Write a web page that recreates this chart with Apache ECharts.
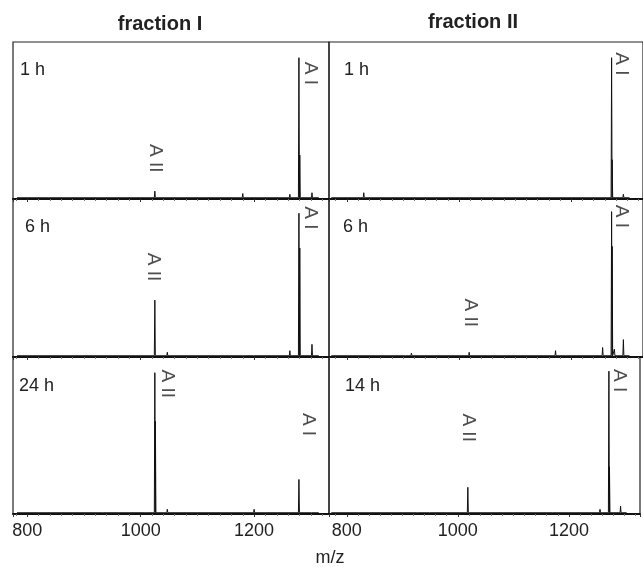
<!DOCTYPE html>
<html>
<head>
<meta charset="utf-8">
<script src="https://cdn.jsdelivr.net/npm/echarts@6/dist/echarts.min.js"></script>
<style>
  html, body { margin: 0; padding: 0; background: #fff; }
  #main { width: 643px; height: 567px; }
</style>
</head>
<body>
<div id="main"></div>
<script>
// m/z axis extents of each column, and where the recorded spectrum runs
const axisRangeI = [775, 1332];
const axisRangeII = [768, 1328];
const spectrumRangeI = [782, 1314];
const spectrumRangeII = [772, 1304];
const baseLevel = 0.008;

const columnTitles = ['fraction I', 'fraction II'];
const timesI = ['1 h', '6 h', '24 h'];
const timesII = ['1 h', '6 h', '14 h'];

// peaks [m/z, relative intensity]
const peaksI1h = [[839, 0.02], [1025, 0.05], [1180, 0.035], [1263, 0.03], [1279, 0.90], [1280.5, 0.28], [1302, 0.04]];
const peaksI6h = [[1025, 0.36], [1047, 0.03], [1180, 0.02], [1200, 0.02], [1263, 0.04], [1279, 0.91], [1280.5, 0.69], [1302, 0.08]];
const peaksI24h = [[934, 0.015], [1010, 0.02], [1025, 0.90], [1026, 0.59], [1047, 0.03], [1200, 0.03], [1279, 0.22], [1302, 0.01]];
const peaksII1h = [[830, 0.04], [1272, 0.90], [1273, 0.25], [1293, 0.03]];
const peaksII6h = [[905, 0.02], [915, 0.025], [930, 0.02], [940, 0.02], [1018, 0.03], [1172, 0.04], [1190, 0.02], [1256, 0.06], [1272, 0.92], [1273, 0.70], [1277, 0.05], [1293, 0.11]];
const peaksII14h = [[928, 0.02], [950, 0.015], [1018, 0.17], [1172, 0.02], [1256, 0.03], [1272, 0.91], [1273, 0.30], [1293, 0.05]];

// peak annotations [m/z, height, text]
const labelsI1h = [[1299, 0.80, 'A I'], [1025, 0.26, 'A II']];
const labelsI6h = [[1299, 0.88, 'A I'], [1022, 0.57, 'A II']];
const labelsI24h = [[1047, 0.83, 'A II'], [1295, 0.57, 'A I']];
const labelsII1h = [[1290, 0.86, 'A I']];
const labelsII6h = [[1290, 0.89, 'A I'], [1020, 0.28, 'A II']];
const labelsII14h = [[1290, 0.85, 'A I'], [1018.5, 0.55, 'A II']];

const FONT = "'Liberation Sans', Arial, sans-serif";

const panels = [
  { peaks: peaksI1h, labels: labelsI1h, col: 0, row: 0 },
  { peaks: peaksI6h, labels: labelsI6h, col: 0, row: 1 },
  { peaks: peaksI24h, labels: labelsI24h, col: 0, row: 2 },
  { peaks: peaksII1h, labels: labelsII1h, col: 1, row: 0 },
  { peaks: peaksII6h, labels: labelsII6h, col: 1, row: 1 },
  { peaks: peaksII14h, labels: labelsII14h, col: 1, row: 2 }
];

const colLeft = [13, 329];
const colWidth = [316, 318];
const rowTop = [42, 199, 357];
const rowHeight = [157, 158, 157];

function stickSpectrum(peaks, range) {
  const pts = [[range[0], baseLevel]];
  peaks.slice().sort((a, b) => a[0] - b[0]).forEach(p => {
    pts.push([p[0] - 0.9, baseLevel]);
    pts.push([p[0], p[1]]);
    pts.push([p[0] + 0.9, baseLevel]);
  });
  pts.push([range[1], baseLevel]);
  return pts;
}

const grid = [], xAxis = [], yAxis = [], series = [], graphic = [];

panels.forEach((p, i) => {
  const axisRange = p.col === 0 ? axisRangeI : axisRangeII;
  const specRange = p.col === 0 ? spectrumRangeI : spectrumRangeII;
  grid.push({
    left: colLeft[p.col], top: rowTop[p.row],
    width: colWidth[p.col], height: rowHeight[p.row],
    show: true, borderColor: '#222', borderWidth: 1.2, backgroundColor: 'transparent'
  });
  xAxis.push({
    type: 'value', gridIndex: i, min: axisRange[0], max: axisRange[1], splitNumber: 3,
    axisLine: { show: true, onZero: false, lineStyle: { color: '#111', width: 2 } },
    axisTick: { show: true, length: 3, lineStyle: { color: '#333' } },
    minorTick: { show: true, splitNumber: 10, length: 2, lineStyle: { color: '#777' } },
    splitLine: { show: false },
    axisLabel: {
      show: p.row === 2, margin: 8, color: '#222', fontSize: 18, fontFamily: FONT,
      formatter: v => (v % 200 === 0 ? String(v) : '')
    }
  });
  yAxis.push({ type: 'value', gridIndex: i, min: 0, max: 1, show: false });
  series.push({
    type: 'line', xAxisIndex: i, yAxisIndex: i, showSymbol: false, animation: false,
    lineStyle: { color: '#111', width: 1 },
    data: stickSpectrum(p.peaks, specRange)
  });
  series.push({
    type: 'scatter', xAxisIndex: i, yAxisIndex: i, symbolSize: 0, animation: false,
    label: {
      show: true, position: 'inside', rotate: -90, formatter: d => d.name,
      color: '#222', fontSize: 19, fontFamily: FONT
    },
    data: p.labels.map(l => ({ name: l[2], value: [l[0], l[1]] }))
  });
});

const timeLeft = [[20, 71], [25, 228], [19, 387]];
const timeRight = [[344, 71], [343, 228], [345, 387]];
timesI.forEach((t, r) => graphic.push({
  type: 'text', left: timeLeft[r][0], top: timeLeft[r][1] - 10,
  style: { text: t, fill: '#222', font: '18px ' + FONT }
}));
timesII.forEach((t, r) => graphic.push({
  type: 'text', left: timeRight[r][0], top: timeRight[r][1] - 10,
  style: { text: t, fill: '#222', font: '18px ' + FONT }
}));
graphic.push({
  type: 'text', x: 160, y: 24,
  style: { text: columnTitles[0], fill: '#222', font: 'bold 20px ' + FONT, align: 'center', verticalAlign: 'middle' }
});
graphic.push({
  type: 'text', x: 473, y: 22,
  style: { text: columnTitles[1], fill: '#222', font: 'bold 20px ' + FONT, align: 'center', verticalAlign: 'middle' }
});
graphic.push({
  type: 'text', x: 330, y: 558,
  style: { text: 'm/z', fill: '#222', font: '18px ' + FONT, align: 'center', verticalAlign: 'middle' }
});

const chart = echarts.init(document.getElementById('main'), null, { renderer: 'canvas' });
chart.setOption({
  backgroundColor: '#fff',
  animation: false,
  grid, xAxis, yAxis, series, graphic
});
</script>
</body>
</html>
